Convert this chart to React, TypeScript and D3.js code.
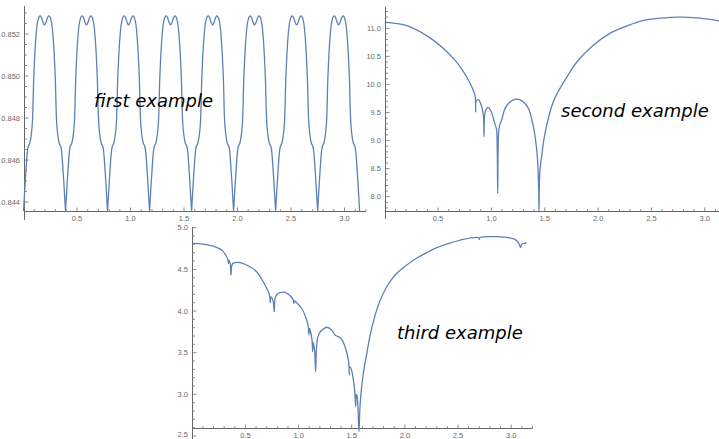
import React from "react";
import * as d3 from "d3";

const W = 719;
const H = 439;
const BLUE = "#5E81B5";
const AXIS = "#666666";
const TICK = "#8c8c8c";
const LABEL = "#6a6a6a";
const LABEL_FONT = "'Liberation Sans', Arial, sans-serif";
const TITLE_FONT = "'DejaVu Sans', Verdana, sans-serif";

// shared x ticks
const xMajorTicks = [0.5, 1.0, 1.5, 2.0, 2.5, 3.0];
const xMinorTicks = [0.1, 0.2, 0.3, 0.4, 0.6, 0.7, 0.8, 0.9, 1.1, 1.2, 1.3, 1.4, 1.6, 1.7, 1.8, 1.9, 2.1, 2.2, 2.3, 2.4, 2.6, 2.7, 2.8, 2.9, 3.1, 3.2];

// ---------- first example (periodic, 8 identical humps) ----------
const p1PeriodStarts = [0, 0.3927, 0.7854, 1.1781, 1.5708, 1.9635, 2.3562, 2.7489];
const p1PeriodLength = 0.3927;
// one half-hump (offset from minimum, value); the other half mirrors it
const p1HalfOffsets = [0, 0.004, 0.0215, 0.043, 0.059, 0.08, 0.096, 0.112, 0.127, 0.138, 0.147, 0.157, 0.167, 0.178, 0.187, 0.19635];
const p1HalfValues = [0.84357, 0.8439, 0.84538, 0.84662, 0.84681, 0.84757, 0.84995, 0.85157, 0.85243, 0.85271, 0.85283, 0.85286, 0.85279, 0.85262, 0.8525, 0.85243];
const p1YMajor = [0.844, 0.846, 0.848, 0.85, 0.852];
const p1YMinor = [0.8445, 0.845, 0.8455, 0.8465, 0.847, 0.8475, 0.8485, 0.849, 0.8495, 0.8505, 0.851, 0.8515, 0.8525, 0.853];

// ---------- second example ----------
const p2X = [0, 0.2, 0.4, 0.55, 0.65, 0.73, 0.8, 0.837, 0.848, 0.853, 0.857, 0.878, 0.905, 0.925, 0.931, 0.937, 0.952, 0.971, 0.995, 1.018, 1.036, 1.048, 1.055, 1.059, 1.063, 1.07, 1.082, 1.097, 1.125, 1.159, 1.2, 1.237, 1.275, 1.315, 1.35, 1.378, 1.4, 1.418, 1.43, 1.438, 1.443, 1.446, 1.449, 1.454, 1.462, 1.471, 1.49, 1.518, 1.56, 1.6, 1.643, 1.72, 1.8, 1.955, 2.11, 2.268, 2.424, 2.58, 2.768, 2.955, 3.1416];
const p2Y = [11.11, 11.05, 10.86, 10.64, 10.45, 10.25, 10.02, 9.86, 9.79, 9.51, 9.7, 9.73, 9.63, 9.45, 9.07, 9.45, 9.56, 9.59, 9.53, 9.4, 9.28, 9.2, 8.8, 8.06, 8.8, 9.2, 9.3, 9.37, 9.56, 9.66, 9.72, 9.74, 9.72, 9.66, 9.56, 9.38, 9.18, 8.95, 8.72, 8.45, 8.15, 7.72, 8.15, 8.45, 8.6, 8.72, 9.0, 9.27, 9.58, 9.78, 9.93, 10.17, 10.4, 10.7, 10.91, 11.04, 11.14, 11.18, 11.2, 11.18, 11.13];
const p2YMajor = [8.0, 8.5, 9.0, 9.5, 10.0, 10.5, 11.0];
const p2YMinor = [7.8, 7.9, 8.1, 8.2, 8.3, 8.4, 8.6, 8.7, 8.8, 8.9, 9.1, 9.2, 9.3, 9.4, 9.6, 9.7, 9.8, 9.9, 10.1, 10.2, 10.3, 10.4, 10.6, 10.7, 10.8, 10.9, 11.1, 11.2, 11.3];

// ---------- third example ----------
const p3X = [0, 0.103, 0.198, 0.276, 0.323, 0.336, 0.34, 0.344, 0.356, 0.364, 0.372, 0.385, 0.433, 0.511, 0.605, 0.684, 0.715, 0.728, 0.734, 0.74, 0.76, 0.771, 0.78, 0.8, 0.825, 0.872, 0.934, 0.952, 0.956, 0.96, 0.981, 1.028, 1.076, 1.091, 1.097, 1.103, 1.126, 1.132, 1.138, 1.151, 1.16, 1.168, 1.18, 1.2, 1.223, 1.264, 1.311, 1.342, 1.36, 1.38, 1.405, 1.442, 1.468, 1.474, 1.477, 1.48, 1.493, 1.515, 1.527, 1.537, 1.543, 1.55, 1.558, 1.568, 1.577, 1.59, 1.609, 1.64, 1.671, 1.72, 1.765, 1.82, 1.875, 1.93, 1.985, 2.08, 2.204, 2.3, 2.424, 2.549, 2.675, 2.695, 2.7, 2.705, 2.832, 2.957, 3.03, 3.06, 3.076, 3.089, 3.1, 3.12, 3.145];
const p3Y = [4.812, 4.804, 4.78, 4.732, 4.652, 4.61, 4.57, 4.61, 4.57, 4.432, 4.55, 4.575, 4.584, 4.552, 4.472, 4.312, 4.233, 4.18, 4.1, 4.17, 4.12, 3.993, 4.16, 4.205, 4.221, 4.225, 4.165, 4.125, 4.09, 4.12, 4.1, 4.033, 3.893, 3.813, 3.713, 3.79, 3.653, 3.513, 3.62, 3.52, 3.273, 3.55, 3.68, 3.745, 3.773, 3.805, 3.773, 3.713, 3.7, 3.69, 3.661, 3.553, 3.413, 3.33, 3.233, 3.33, 3.313, 3.173, 3.053, 2.853, 3.0, 2.98, 2.853, 2.554, 2.84, 3.05, 3.25, 3.48, 3.7, 3.95, 4.12, 4.27, 4.38, 4.46, 4.52, 4.61, 4.7, 4.76, 4.815, 4.86, 4.884, 4.88, 4.86, 4.88, 4.892, 4.884, 4.862, 4.835, 4.8, 4.76, 4.8, 4.81, 4.82];
const p3YMajor = [2.5, 3.0, 3.5, 4.0, 4.5, 5.0];
const p3YMinor = [2.6, 2.7, 2.8, 2.9, 3.1, 3.2, 3.3, 3.4, 3.6, 3.7, 3.8, 3.9, 4.1, 4.2, 4.3, 4.4, 4.6, 4.7, 4.8, 4.9];

type Pt = [number, number];

function buildP1(): Pt[] {
  const pts: Pt[] = [];
  p1PeriodStarts.forEach((s) => {
    p1HalfOffsets.forEach((o, i) => pts.push([s + o, p1HalfValues[i]]));
    for (let i = p1HalfOffsets.length - 2; i >= 1; i--) {
      pts.push([s + p1PeriodLength - p1HalfOffsets[i], p1HalfValues[i]]);
    }
  });
  pts.push([Math.PI, p1HalfValues[0]]);
  return pts;
}

interface PanelProps {
  x: d3.ScaleLinear<number, number>;
  y: d3.ScaleLinear<number, number>;
  xAxisAt: number;
  xAxisTo: number;
  yAxisFrom: number;
  yAxisTo: number;
  yMajor: number[];
  yMinor: number[];
  fmt: (v: number) => string;
  points: Pt[];
}

function Panel({ x, y, xAxisAt, xAxisTo, yAxisFrom, yAxisTo, yMajor, yMinor, fmt, points }: PanelProps) {
  const line = d3
    .line<Pt>()
    .x((d) => x(d[0]))
    .y((d) => y(d[1]))
    .curve(d3.curveCatmullRom.alpha(0.5));
  const ax = Math.round(x(0)) + 0.5;
  const ay = Math.round(y(xAxisAt)) + 0.5;
  return (
    <g>
      {/* x axis */}
      <line x1={ax} x2={x(xAxisTo)} y1={ay} y2={ay} stroke={AXIS} strokeWidth={1} />
      {xMinorTicks.map((t) => (
        <line key={"xm" + t} x1={x(t)} x2={x(t)} y1={ay} y2={ay - 2.5} stroke={TICK} strokeWidth={1} />
      ))}
      {xMajorTicks.map((t) => (
        <g key={"xM" + t}>
          <line x1={x(t)} x2={x(t)} y1={ay} y2={ay - 4} stroke={TICK} strokeWidth={1} />
          <text x={x(t)} y={ay + 9} textAnchor="middle" fontFamily={LABEL_FONT} fontSize={7.5} fill={LABEL}>
            {t.toFixed(1)}
          </text>
        </g>
      ))}
      {/* y axis */}
      <line x1={ax} x2={ax} y1={y(yAxisFrom)} y2={y(yAxisTo)} stroke={AXIS} strokeWidth={1} />
      {yMinor.map((t) => (
        <line key={"ym" + t} x1={ax} x2={ax + 2.5} y1={y(t)} y2={y(t)} stroke={TICK} strokeWidth={1} />
      ))}
      {yMajor.map((t) => (
        <g key={"yM" + t}>
          <line x1={ax} x2={ax + 4} y1={y(t)} y2={y(t)} stroke={TICK} strokeWidth={1} />
          <text
            x={ax - 4.5}
            y={Math.min(y(t) + 2.7, 437)}
            textAnchor="end"
            fontFamily={LABEL_FONT}
            fontSize={7.5}
            fill={LABEL}
          >
            {fmt(t)}
          </text>
        </g>
      ))}
      <path d={line(points) || ""} fill="none" stroke={BLUE} strokeWidth={1.3} strokeLinejoin="round" />
    </g>
  );
}

export default function App() {
  // first example
  const x1 = d3.scaleLinear().domain([0, Math.PI]).range([23.5, 23.5 + 107 * Math.PI]);
  const y1 = d3.scaleLinear().domain([0.844, 0.852]).range([202, 34]);
  const pts1 = buildP1();

  // second example
  const x2 = d3.scaleLinear().domain([0, Math.PI]).range([384.7, 384.7 + 106.7 * Math.PI]);
  const y2 = d3.scaleLinear().domain([8, 11]).range([196.7, 28.3]);
  const pts2: Pt[] = p2X.map((v, i) => [v, p2Y[i]]);

  // third example
  const x3 = d3.scaleLinear().domain([0, Math.PI]).range([192.3, 192.3 + 106.3 * Math.PI]);
  const y3 = d3.scaleLinear().domain([2.5, 5.0]).range([436, 227.7]);
  const pts3: Pt[] = p3X.map((v, i) => [v, p3Y[i]]);

  return (
    <svg
      width={W}
      height={H}
      viewBox={`0 0 ${W} ${H}`}
      style={{ position: "absolute", left: 0, top: 0, background: "#fff" }}
    >
      <rect x={0} y={0} width={W} height={H} fill="#fff" />
      <Panel
        x={x1}
        y={y1}
        xAxisAt={0.84357}
        xAxisTo={3.2}
        yAxisFrom={0.84315}
        yAxisTo={0.85333}
        yMajor={p1YMajor}
        yMinor={p1YMinor}
        fmt={(v) => v.toFixed(3)}
        points={pts1}
      />
      <Panel
        x={x2}
        y={y2}
        xAxisAt={7.745}
        xAxisTo={3.2}
        yAxisFrom={7.6}
        yAxisTo={11.38}
        yMajor={p2YMajor}
        yMinor={p2YMinor}
        fmt={(v) => v.toFixed(1)}
        points={pts2}
      />
      <Panel
        x={x3}
        y={y3}
        xAxisAt={2.595}
        xAxisTo={3.2}
        yAxisFrom={2.46}
        yAxisTo={5.01}
        yMajor={p3YMajor}
        yMinor={p3YMinor}
        fmt={(v) => v.toFixed(1)}
        points={pts3}
      />
      <text x={94} y={107} fontFamily={TITLE_FONT} fontStyle="italic" fontSize={18} fill="#000">
        first example
      </text>
      <text x={561} y={117} fontFamily={TITLE_FONT} fontStyle="italic" fontSize={18} fill="#000">
        second example
      </text>
      <text x={397} y={339} fontFamily={TITLE_FONT} fontStyle="italic" fontSize={18} fill="#000">
        third example
      </text>
    </svg>
  );
}
